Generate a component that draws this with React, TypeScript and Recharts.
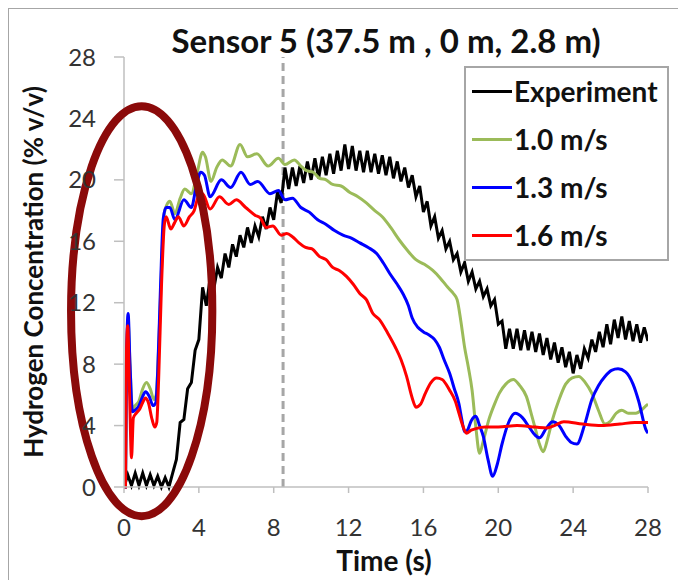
import { LineChart, Line, XAxis, YAxis, ReferenceLine, ReferenceArea } from "recharts"

// time (s), hydrogen concentration (% v/v)
const experiment: [number, number][] = [
  [0, 0], [0.2, 0.8], [0.4, 0.1], [0.6, 0.9], [0.8, 0.1], [1, 0.9], [1.2, 0.1], [1.4, 0.8], [1.6, 0.1], [1.8, 0.7],
  [2, 0], [2.2, 0.6], [2.4, 0], [2.6, 0.9], [2.8, 1.8], [3, 4.2], [3.2, 4.4], [3.4, 6.4], [3.6, 6.8], [3.8, 8.9],
  [4, 9.6], [4.2, 13.0], [4.4, 11.8], [4.6, 13.6], [4.8, 12.9], [5, 14.3], [5.2, 13.6], [5.4, 15.2], [5.6, 14.3], [5.8, 15.8],
  [6, 15.0], [6.2, 16.4], [6.4, 15.6], [6.6, 16.9], [6.8, 15.9], [7, 17.0], [7.2, 16.3], [7.4, 17.6], [7.6, 16.8], [7.8, 18.2],
  [8, 17.4], [8.2, 19.2], [8.4, 18.5], [8.6, 20.8], [8.8, 19.4], [9, 20.8], [9.2, 19.6], [9.4, 20.9], [9.6, 19.8], [9.8, 21.2],
  [10, 20.0], [10.2, 21.4], [10.4, 20.1], [10.6, 21.5], [10.8, 20.3], [11, 21.7], [11.2, 20.4], [11.4, 21.9], [11.6, 20.6], [11.8, 22.3],
  [12, 20.7], [12.2, 22.2], [12.4, 20.6], [12.6, 21.9], [12.8, 20.5], [13, 21.9], [13.2, 20.5], [13.4, 21.7], [13.6, 20.4], [13.8, 21.6],
  [14, 20.3], [14.2, 21.5], [14.4, 20.1], [14.6, 21.2], [14.8, 19.9], [15, 20.8], [15.2, 19.5], [15.4, 20.3], [15.6, 18.9], [15.8, 19.6],
  [16, 17.9], [16.2, 18.6], [16.4, 17.0], [16.6, 17.6], [16.8, 16.2], [17, 16.7], [17.2, 15.5], [17.4, 16.0], [17.6, 14.8], [17.8, 15.2],
  [18, 14.0], [18.2, 14.6], [18.4, 13.4], [18.6, 14.0], [18.8, 12.9], [19, 13.4], [19.2, 12.4], [19.4, 12.9], [19.6, 11.8], [19.8, 12.2],
  [20, 10.6], [20.2, 10.8], [20.4, 9.0], [20.6, 10.3], [20.8, 9.0], [21, 10.3], [21.2, 8.9], [21.4, 10.2], [21.6, 8.9], [21.8, 10.1],
  [22, 8.8], [22.2, 10.0], [22.4, 8.6], [22.6, 9.7], [22.8, 8.3], [23, 9.4], [23.2, 8.1], [23.4, 9.1], [23.6, 7.8], [23.8, 8.8],
  [24, 7.4], [24.2, 8.6], [24.4, 7.7], [24.6, 9.0], [24.8, 8.4], [25, 9.6], [25.2, 8.8], [25.4, 10.1], [25.6, 9.1], [25.8, 10.6],
  [26, 9.3], [26.2, 10.9], [26.4, 9.7], [26.6, 11.1], [26.8, 9.6], [27, 10.8], [27.2, 9.5], [27.4, 10.6], [27.6, 9.4], [27.8, 10.4],
  [28, 9.5],
]

const speed10: [number, number][] = [
  [0, 0], [0.08, 0], [0.13, 7], [0.22, 10.8], [0.32, 8], [0.45, 5.1], [0.6, 5.3], [0.8, 5.6], [1, 6.4],
  [1.2, 6.8], [1.4, 6.4], [1.6, 5.7], [1.72, 6.0], [1.85, 9], [2, 14], [2.15, 17.8], [2.3, 18.4], [2.45, 18.6],
  [2.72, 17.8], [3, 18.8], [3.25, 19.4], [3.6, 19.1], [3.9, 20.4], [4.2, 21.8], [4.35, 21.5], [4.65, 19.9],
  [4.95, 20.8], [5.25, 21.3], [5.7, 20.9], [6.2, 22.3], [6.6, 21.5], [7.1, 21.7], [7.7, 20.9], [8.25, 21.4],
  [8.6, 21.0], [9.1, 21.3], [9.45, 20.9], [9.75, 20.6], [10.1, 20.5], [10.45, 20.1], [10.8, 20.0], [11.15, 19.7],
  [11.6, 19.6], [12.05, 19.2], [12.5, 18.9], [12.95, 18.5], [13.4, 18.0], [13.8, 17.6], [14.25, 16.9], [14.7, 16.1],
  [15.15, 15.4], [15.6, 14.8], [16.05, 14.5], [16.5, 14.1], [16.9, 13.6], [17.3, 13.0], [17.6, 12.6], [17.8, 12.2],
  [18, 10.8], [18.2, 9.1], [18.4, 7.8], [18.6, 6.3], [18.8, 3.9], [19, 2.2], [19.2, 3.0], [19.5, 4.4],
  [19.8, 5.4], [20.05, 6.1], [20.4, 6.7], [20.8, 7.0], [21.15, 6.6], [21.5, 5.9], [21.8, 4.6], [22, 3.7],
  [22.2, 2.8], [22.4, 2.3], [22.65, 3.2], [22.9, 4.4], [23.25, 5.7], [23.6, 6.7], [23.95, 7.1], [24.3, 7.2],
  [24.65, 6.8], [25, 6.1], [25.35, 5.0], [25.7, 4.1], [26, 4.3], [26.3, 4.8], [26.6, 5.0], [26.95, 4.8],
  [27.35, 4.8], [27.65, 5.0], [27.9, 5.3], [28, 5.4],
]

const speed13: [number, number][] = [
  [0, 0], [0.08, 0], [0.13, 8], [0.22, 11.3], [0.32, 8], [0.45, 4.9], [0.6, 5.0], [0.8, 5.3], [1, 5.9],
  [1.15, 6.2], [1.35, 5.9], [1.55, 5.3], [1.7, 5.5], [1.8, 7.5], [1.95, 13], [2.1, 17.5], [2.25, 18.2],
  [2.45, 18.2], [2.72, 17.4], [3.2, 18.7], [3.6, 18.2], [3.85, 19.5], [4.1, 20.5], [4.3, 20.3], [4.6, 18.9],
  [5.2, 20.0], [5.7, 19.5], [6.25, 20.5], [6.75, 19.7], [7.15, 19.9], [7.8, 19.1], [8.25, 19.3], [8.6, 18.7],
  [9, 18.8], [9.45, 18.2], [9.9, 17.9], [10.35, 17.4], [10.8, 17.1], [11.25, 16.7], [11.7, 16.4], [12.15, 16.2],
  [12.6, 15.9], [13.05, 15.6], [13.5, 15.2], [13.85, 14.6], [14.2, 13.9], [14.6, 13.2], [14.9, 12.6], [15.2, 11.8],
  [15.4, 11.0], [15.7, 10.4], [16, 10.1], [16.3, 9.9], [16.6, 9.6], [16.85, 9.1], [17.1, 8.3], [17.4, 7.4],
  [17.65, 6.4], [17.9, 5.4], [18.05, 4.4], [18.2, 3.6], [18.35, 3.7], [18.55, 4.3], [18.8, 4.6], [19, 4.0],
  [19.2, 3.3], [19.45, 1.8], [19.7, 0.7], [19.95, 1.5], [20.2, 2.8], [20.55, 4.2], [20.9, 4.8], [21.3, 4.5],
  [21.65, 3.9], [21.95, 3.4], [22.2, 3.2], [22.55, 3.8], [22.9, 4.25], [23.25, 4.0], [23.6, 3.3], [23.9, 2.9],
  [24.2, 2.8], [24.6, 4.0], [25, 5.7], [25.35, 6.6], [25.7, 7.2], [26.05, 7.6], [26.4, 7.7], [26.8, 7.5],
  [27.2, 6.7], [27.5, 5.6], [27.9, 3.7], [28, 3.5],
]

const speed16: [number, number][] = [
  [0, 0], [0.08, 0], [0.12, 8], [0.2, 10.5], [0.3, 6], [0.4, 1.9], [0.5, 4.5], [0.65, 4.8], [0.85, 5.1],
  [1, 5.5], [1.15, 5.8], [1.3, 5.5], [1.5, 4.4], [1.65, 3.9], [1.75, 4.2], [1.85, 7], [2, 13], [2.15, 17.0],
  [2.25, 17.6], [2.5, 16.8], [2.7, 17.2], [2.9, 17.6], [3.2, 17.0], [3.5, 17.6], [3.75, 18.0], [4, 19.0],
  [4.2, 19.1], [4.6, 18.1], [5.1, 18.9], [5.6, 18.4], [6, 18.7], [6.5, 18.2], [7, 17.7], [7.3, 17.5],
  [7.6, 16.9], [7.95, 17.0], [8.4, 16.4], [8.7, 16.5], [9, 16.3], [9.35, 15.9], [9.7, 15.6], [10.05, 15.5],
  [10.45, 15.0], [10.8, 14.8], [11.15, 14.3], [11.5, 14.1], [11.9, 13.7], [12.25, 13.2], [12.6, 12.6], [12.95, 12.2],
  [13.3, 11.3], [13.65, 10.9], [14.1, 10.0], [14.5, 9.1], [14.8, 8.3], [15.1, 7.2], [15.4, 5.8], [15.6, 5.2],
  [15.85, 5.4], [16.1, 6.1], [16.4, 6.8], [16.7, 7.1], [17, 7.0], [17.4, 6.3], [17.7, 5.6], [17.9, 4.8],
  [18.1, 4.0], [18.3, 3.5], [18.55, 3.7], [18.8, 3.8], [19.3, 3.9], [20, 3.9], [21, 4.0], [22, 3.9],
  [22.6, 3.85], [23, 4.0], [23.5, 4.25], [24.5, 4.1], [25.5, 4.0], [26.5, 4.1], [27.3, 4.2], [28, 4.2],
]

const ticks = [0, 4, 8, 12, 16, 20, 24, 28]
const onsetTime = 8.5
// highlighted early-time region (time range, concentration range)
const highlightT = [-2.83, 4.72]
const highlightC = [-1.9, 24.8]

const seriesList = [
  { name: "Experiment", color: "#000000", data: experiment, type: "linear" },
  { name: "1.0 m/s", color: "#9bbb59", data: speed10, type: "monotone" },
  { name: "1.3 m/s", color: "#0000ff", data: speed13, type: "monotone" },
  { name: "1.6 m/s", color: "#ff0000", data: speed16, type: "monotone" },
]

const toRows = (pairs: [number, number][]) => pairs.map(([t, v]) => ({ t, v }))

const EllipseShape = (p: any) => (
  <ellipse
    cx={p.x + p.width / 2}
    cy={p.y + p.height / 2}
    rx={Math.abs(p.width / 2)}
    ry={Math.abs(p.height / 2)}
    fill="none"
    stroke="#8b0a0a"
    strokeWidth={8}
  />
)

const font = "Lato, 'Open Sans', sans-serif"
const tickStyle = { fontSize: 24, fill: "#333333", fontFamily: font }

export default function App() {
  return (
    <div
      style={{
        position: "relative",
        width: 679,
        height: 573,
        marginLeft: -1,
        marginTop: -1,
        boxSizing: "border-box",
        borderTop: "2px solid #a6a6a6",
        borderLeft: "2px solid #a6a6a6",
        fontFamily: font,
        background: "#fff",
      }}
    >
      <LineChart width={677} height={571} margin={{ top: 48, right: 38, bottom: 33, left: 0 }}>
        <XAxis
          dataKey="t"
          type="number"
          domain={[0, 28]}
          ticks={ticks}
          allowDataOverflow
          height={60}
          tickSize={6}
          tickMargin={26}
          stroke="#bfbfbf"
          strokeWidth={1.5}
          tick={tickStyle}
        />
        <YAxis
          type="number"
          domain={[0, 28]}
          ticks={ticks}
          width={115}
          tickSize={10}
          tickMargin={18}
          stroke="#bfbfbf"
          strokeWidth={1.5}
          tick={tickStyle}
        />
        <ReferenceLine x={onsetTime} stroke="#a6a6a6" strokeWidth={3} strokeDasharray="8 5" />
        {seriesList.map((s) => (
          <Line
            key={s.name}
            data={toRows(s.data)}
            dataKey="v"
            name={s.name}
            type={s.type as any}
            stroke={s.color}
            strokeWidth={3}
            dot={false}
            isAnimationActive={false}
          />
        ))}
        <ReferenceArea
          x1={highlightT[0]}
          x2={highlightT[1]}
          y1={highlightC[0]}
          y2={highlightC[1]}
          ifOverflow="visible"
          shape={EllipseShape}
          zIndex={1000}
        />
      </LineChart>

      <div
        style={{
          position: "absolute",
          left: 377,
          top: 31,
          transform: "translate(-50%, -50%)",
          whiteSpace: "nowrap",
          fontWeight: 700,
          fontSize: 33,
          color: "#111",
        }}
      >
        Sensor 5 (37.5 m , 0 m, 2.8 m)
      </div>

      <div
        style={{
          position: "absolute",
          left: 375,
          top: 551,
          transform: "translate(-50%, -50%)",
          whiteSpace: "nowrap",
          fontWeight: 700,
          fontSize: 28,
          color: "#111",
        }}
      >
        Time (s)
      </div>

      <div
        style={{
          position: "absolute",
          left: 24,
          top: 263,
          transform: "translate(-50%, -50%) rotate(-90deg)",
          whiteSpace: "nowrap",
          fontWeight: 700,
          fontSize: 26,
          color: "#111",
        }}
      >
        Hydrogen Concentration (% v/v)
      </div>

      <div
        style={{
          position: "absolute",
          left: 455,
          top: 57,
          width: 205,
          height: 195,
          boxSizing: "border-box",
          border: "2px solid #a6a6a6",
          background: "#fff",
        }}
      >
        {seriesList.map((s, i) => (
          <div
            key={s.name}
            style={{
              position: "absolute",
              left: 6,
              top: 23 + i * 48,
              transform: "translateY(-50%)",
              display: "flex",
              alignItems: "center",
              whiteSpace: "nowrap",
            }}
          >
            <span style={{ display: "inline-block", width: 40, height: 3, background: s.color }} />
            <span style={{ marginLeft: 2, fontWeight: 700, fontSize: 28, color: "#111" }}>{s.name}</span>
          </div>
        ))}
      </div>
    </div>
  )
}
